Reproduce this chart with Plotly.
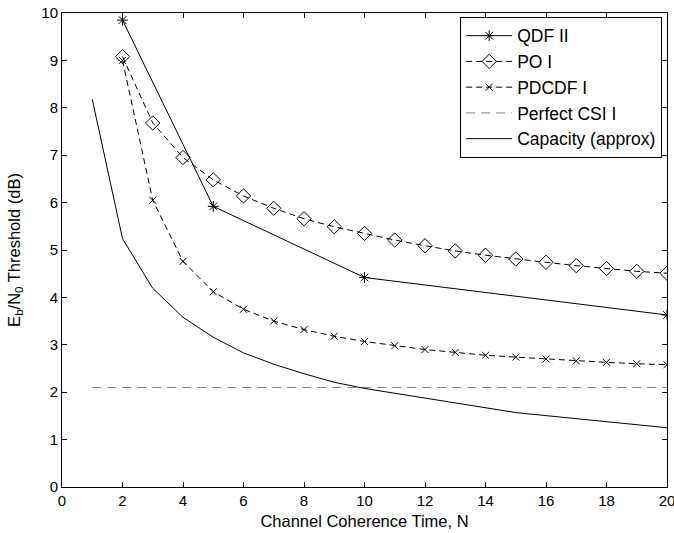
import plotly.graph_objects as go

qdf_x = [2, 5, 10, 20]
qdf_y = [9.85, 5.92, 4.42, 3.63]

po_x = list(range(2, 21))
po_y = [9.08, 7.68, 6.95, 6.48, 6.14, 5.88, 5.66, 5.49, 5.35, 5.21, 5.09, 4.98,
        4.89, 4.81, 4.74, 4.67, 4.61, 4.55, 4.51]

pdcdf_x = list(range(2, 21))
pdcdf_y = [9.0, 6.05, 4.76, 4.12, 3.75, 3.50, 3.32, 3.18, 3.07, 2.98, 2.90, 2.84,
           2.78, 2.74, 2.70, 2.66, 2.63, 2.60, 2.58]

csi_x = [1, 20]
csi_y = [2.1, 2.1]

cap_x = [1, 2, 3, 4, 5, 6, 7, 8, 9, 10, 15, 20]
cap_y = [8.18, 5.24, 4.19, 3.58, 3.16, 2.83, 2.59, 2.39, 2.21, 2.08, 1.57, 1.25]

x_ticks = list(range(0, 21, 2))
y_ticks = list(range(0, 11))

fig = go.Figure()
fig.add_trace(go.Scatter(x=qdf_x, y=qdf_y, name="QDF II", mode="lines+markers",
                         line=dict(color="black", width=1),
                         marker=dict(symbol="asterisk-open", size=9, color="black",
                                     line=dict(width=1, color="black"))))
fig.add_trace(go.Scatter(x=po_x, y=po_y, name="PO I", mode="lines+markers",
                         line=dict(color="black", width=1, dash="6px,4px"),
                         marker=dict(symbol="diamond-open", size=11, color="black",
                                     line=dict(width=1, color="black"))))
fig.add_trace(go.Scatter(x=pdcdf_x, y=pdcdf_y, name="PDCDF I", mode="lines+markers",
                         line=dict(color="black", width=1, dash="6px,4px"),
                         marker=dict(symbol="x-thin-open", size=7, color="black",
                                     line=dict(width=1, color="black"))))
fig.add_trace(go.Scatter(x=csi_x, y=csi_y, name="Perfect CSI I", mode="lines",
                         line=dict(color="#808080", width=1, dash="9px,6px")))
fig.add_trace(go.Scatter(x=cap_x, y=cap_y, name="Capacity (approx)", mode="lines",
                         line=dict(color="black", width=1)))

axis_common = dict(showgrid=False, zeroline=False, showline=True, linecolor="black",
                   linewidth=1, mirror="allticks", ticks="inside", ticklen=5,
                   tickcolor="black", tickfont=dict(size=15, color="black"),
                   ticklabeloverflow="allow", automargin=False)

fig.update_xaxes(range=[0, 20], tickvals=x_ticks,
                 title=dict(text="Channel Coherence Time, N",
                            font=dict(size=16.5, color="black"), standoff=7),
                 **axis_common)
fig.update_yaxes(range=[0, 10], tickvals=y_ticks,
                 title=dict(text="E<sub>b</sub>/N<sub>0</sub> Threshold (dB)",
                            font=dict(size=16.5, color="black"), standoff=16),
                 **axis_common)

fig.update_layout(
    width=674, height=533,
    margin=dict(l=62, r=7, t=13, b=46),
    paper_bgcolor="white", plot_bgcolor="white",
    font=dict(family="Liberation Sans, Arial, sans-serif", size=15, color="black"),
    legend=dict(x=0.992, y=0.992, xanchor="right", yanchor="top",
                bgcolor="white", bordercolor="black", borderwidth=1,
                font=dict(size=17.5), tracegroupgap=0, itemwidth=46),
)

fig.write_html("out.html", config={"displayModeBar": False},
               post_script="document.body.style.margin='0';")
